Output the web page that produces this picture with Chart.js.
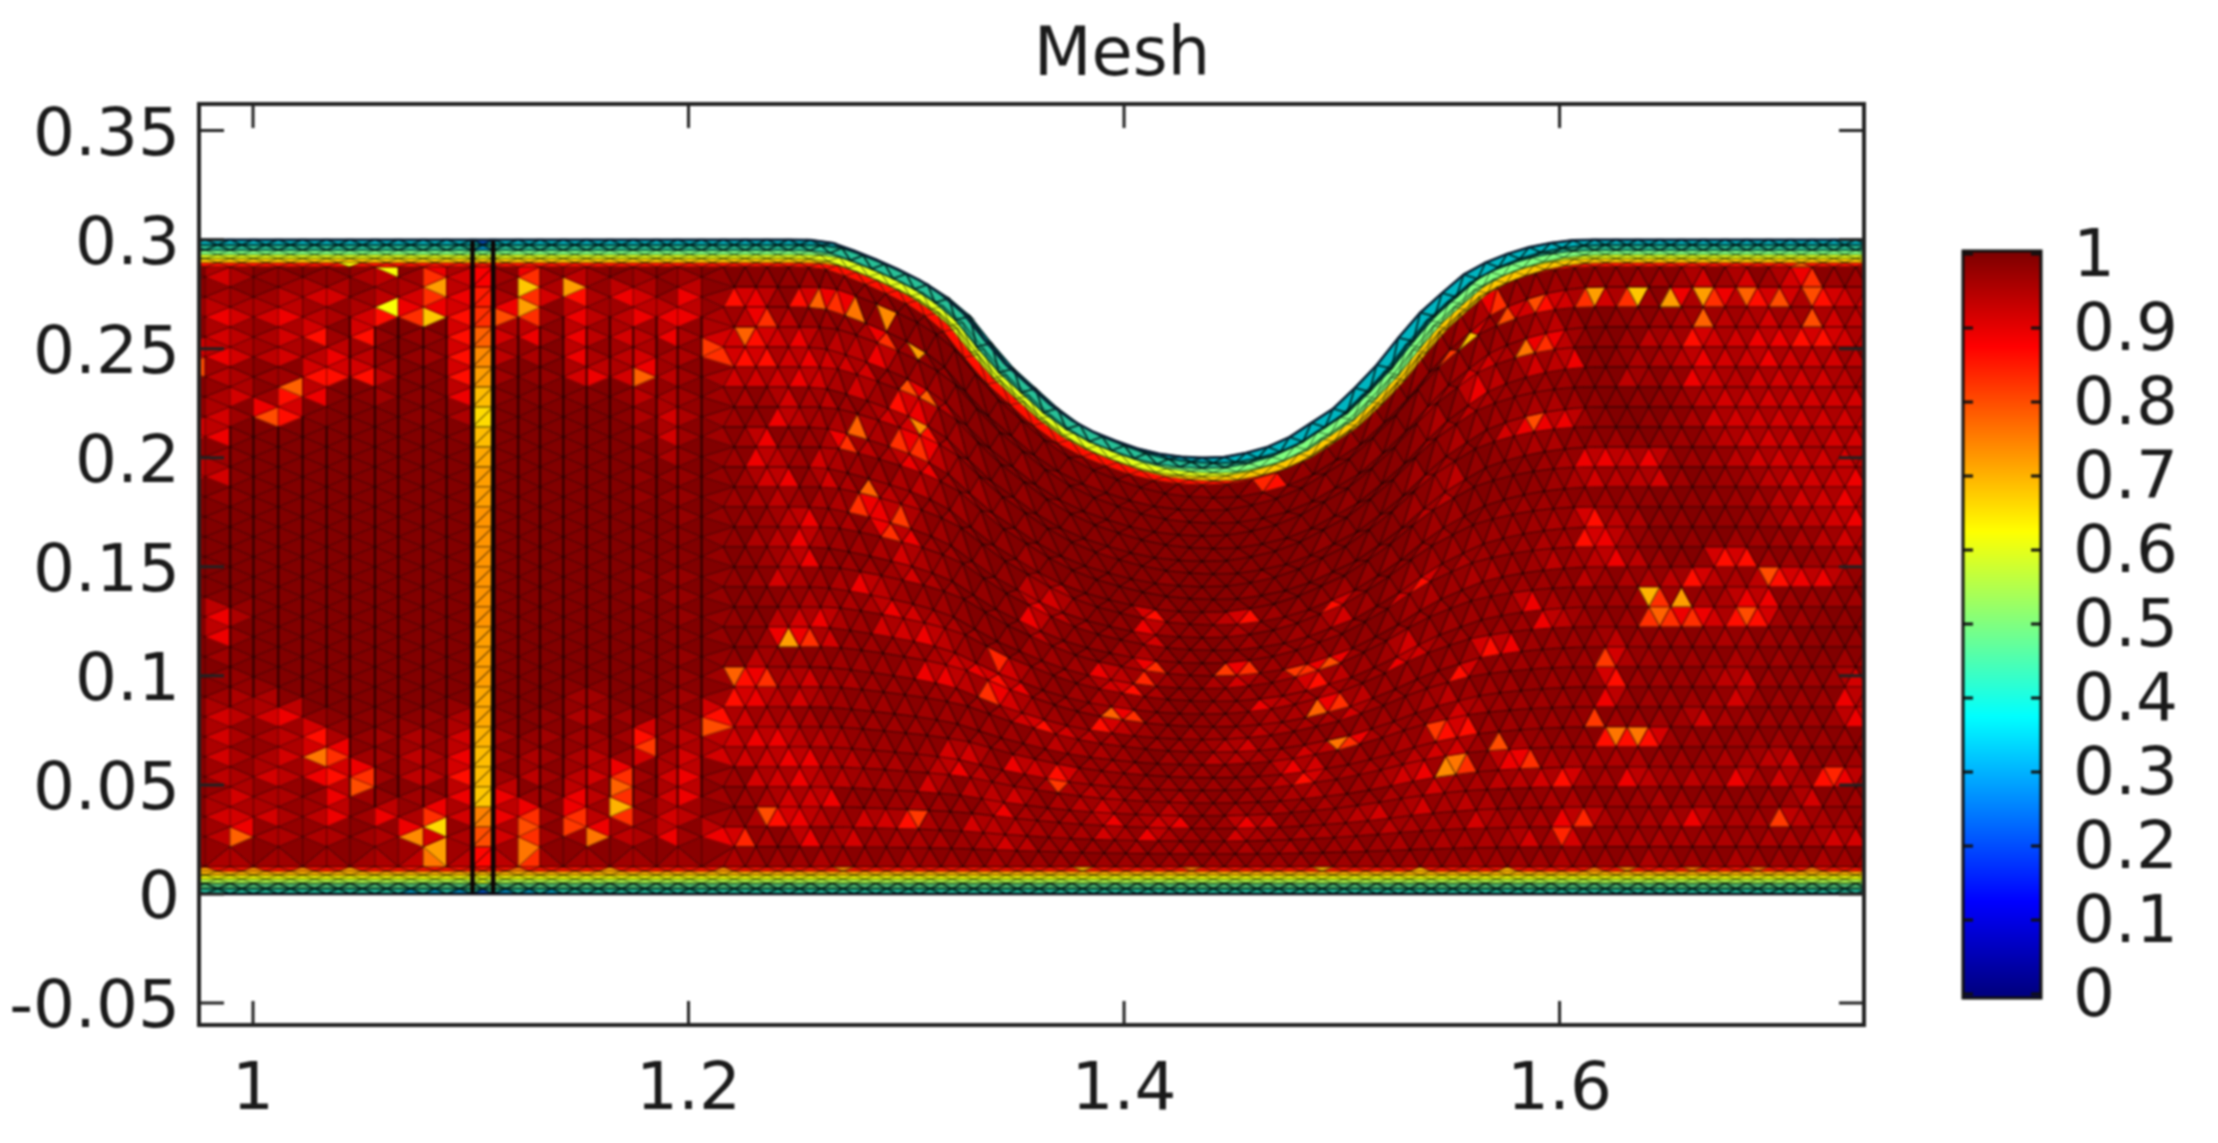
<!DOCTYPE html>
<html>
<head>
<meta charset="utf-8">
<title>Mesh</title>
<script src="https://cdn.jsdelivr.net/npm/chart.js@4/dist/chart.umd.js"></script>
<style>
    html, body { margin: 0; padding: 0; background: #fff; overflow: hidden; }
    #page { position: relative; width: 2218px; height: 1143px; }
    canvas { position: absolute; filter: blur(0.8px); }
    #meshChart { left: 0; top: 0; }
    #barChart { left: 1955px; top: 194px; }
</style>
</head>
<body>
<div id="page">
    <canvas id="meshChart" width="2218" height="1143"></canvas>
    <canvas id="barChart" width="263" height="861"></canvas>
</div>
<script>
const titleText = 'Mesh';
const xTicks = [1, 1.2, 1.4, 1.6];
const yTicks = [-0.05, 0, 0.05, 0.1, 0.15, 0.2, 0.25, 0.3, 0.35];
const barTicks = [0, 0.1, 0.2, 0.3, 0.4, 0.5, 0.6, 0.7, 0.8, 0.9, 1];

// mesh columns and the upper wall height at each of them
const meshX = [0.965, 0.978, 0.9895, 1.0002, 1.0116, 1.0228, 1.0338, 1.0445, 1.056, 1.0667, 1.0782, 1.0889, 1.1008, 1.1103, 1.1218, 1.1318, 1.1425, 1.1532, 1.1639, 1.1746, 1.1853, 1.195, 1.206,
    1.216, 1.226, 1.236, 1.246, 1.256, 1.266, 1.276, 1.286, 1.296, 1.306, 1.316, 1.326, 1.336, 1.346, 1.356, 1.366, 1.376, 1.386, 1.396, 1.406, 1.416, 1.426, 1.436, 1.446, 1.456, 1.466, 1.476,
    1.486, 1.496, 1.506, 1.516, 1.526, 1.536, 1.546, 1.556, 1.566, 1.576, 1.586, 1.596, 1.606, 1.616, 1.626, 1.636, 1.646, 1.656, 1.666, 1.676, 1.686, 1.696, 1.706, 1.716, 1.726, 1.736, 1.746];
const meshTop = [0.3, 0.3, 0.3, 0.3, 0.3, 0.3, 0.3, 0.3, 0.3, 0.3, 0.3, 0.3, 0.3, 0.3, 0.3, 0.3, 0.3, 0.3, 0.3, 0.3, 0.3, 0.3, 0.3,
    0.3, 0.3, 0.3, 0.3, 0.2998, 0.2985, 0.295, 0.291, 0.2865, 0.2815, 0.275, 0.2665, 0.254, 0.2425, 0.2335, 0.2245, 0.2172, 0.2118, 0.2078, 0.2043, 0.2018, 0.2005, 0.2, 0.2003, 0.2022, 0.205, 0.2095,
    0.216, 0.2225, 0.232, 0.2425, 0.255, 0.2665, 0.2755, 0.284, 0.2895, 0.2935, 0.2965, 0.2985, 0.2997, 0.3, 0.3, 0.3, 0.3, 0.3, 0.3, 0.3, 0.3, 0.3, 0.3, 0.3, 0.3, 0.3, 0.3];

// thin layers along both walls, and the quality in each of them from the wall inwards
const wallDepths = [0, 0.0024, 0.0048, 0.0068, 0.0086, 0.0105, 0.0125];
const wallTopValues = [0.36, 0.43, 0.5, 0.6, 0.68, 0.86];
const wallBottomValues = [0.42, 0.48, 0.55, 0.62, 0.7, 0.86];

// one character per mesh column, one string per row from top to bottom
const qualityLevels = [0.998, 0.99, 0.98, 0.968, 0.955, 0.94, 0.918, 0.892, 0.862, 0.83];
const qualityRows = [
    '2642222453966393532 323223232322111111 2221212212821221223 49333333333636369333',
    '3433566356977496847 637387389922221111 2112121121212121323 83868696939495884866',
    '5766754689988993755 777459533349322111 1211112111112121233 33345322334555655656',
    '3654683822289673756 574668674557333211 2111111111111112353 66499522355866778865',
    '8765657522389542745 644988676663395321 1211111111111211242 75365722445766766653',
    '4543388851189322676 953466676463873321 2111111111111111233 54333322534765666654',
    '3463871131179111112 543343645336684322 1112111111112111324 33344321223566666665',
    '4639810001149000001 464333754464995332 2111112111211112243 23677732123466666666',
    '8710000000019000000 363337334954773332 2211111112112111335 22344333223356665666',
    '4310000000009000000 242237536433453322 3121112111111112255 22223477673345666665',
    '7610000000009000000 222236736435533222 3521283258322322233 22223465563234566675',
    '3210000000009000000 222234534497633222 5631273234232832233 22333333322233456675',
    '1100000000009000000 112233574439733222 7532262223233632333 33334485422223355676',
    '1000000000009000000 111224574334643222 7322342222233322683 43334487422223334565',
    '1000000000009000000 111223573333643221 5322493229333322343 44335457532288333453',
    '1000000000009000000 222223643475333222 3337553246349932333 33333353445854587742',
    '2100000000009000000 222222344447654322 3336842233348533633 33374333395447733332',
    '3740000000009000000 112222567436675336 3234432233754533763 33337533399968833222',
    '3720000000009000000 111223996333446787 3335932233445953333 38733335333344332222',
    '2310000000009000000 112225333333477596 4338532334544463333 83333338433334332233',
    '1220000000009000000 112389564433334336 8654333356433333345 33323338333356333363',
    '2344100000009000330 123387564333333333 4544323355446594434 64333337333346333375',
    '3656721111249112443 133865543333333333 3334423333376333448 83333343333644333378',
    '3644584234369323333 845567755433336637 6844333333458444456 63343338883333333333',
    '3644689335479343453 646666775544357543 4455434333345434675 93794444433344563333',
    '3546578935589353569 367336675544363556 3456445334343433446 44556844754547464873',
    '3464437323379733759 367334667333433374 4447467337633456464 54334433343333336333',
    '3666457374969793959 365334875466843655 4446474336434444544 46444774445744475444',
    '4594444349649693395 473784374644443465 3433434334343343434 44464644444444444663',
    '4443333345859593333 333343334333433343 3333333333333333333 34333433343334333433'
];

// the narrow column of poor elements near x = 1.1, same rows as above
const stripValues = [0.88, 0.85, 0.83, 0.78, 0.74, 0.72, 0.69, 0.66, 0.69, 0.71, 0.72, 0.72, 0.73, 0.73, 0.73, 0.73, 0.73, 0.73, 0.72, 0.72, 0.72, 0.71, 0.71, 0.7, 0.69, 0.69, 0.68, 0.75, 0.8, 0.87];

// single elements that stand out: x, y, quality
const hotElements = [
    [1.105, 0.2985, 0.22], [1.105, 0.2965, 0.3], [1.075, 0.001, 0.32], [1.085, 0.001, 0.32], [1.095, 0.001, 0.3], [1.105, 0.001, 0.22], [1.115, 0.001, 0.3], [1.125, 0.001, 0.32], [1.135, 0.001, 0.33], [1.105, 0.005, 0.6],
    [1.0445, 0.2864, 0.62], [1.063, 0.2864, 0.62], [1.063, 0.2658, 0.62], [1.0843, 0.265, 0.68], [1.085, 0.2757, 0.72], [1.1233, 0.278, 0.68], [1.1455, 0.275, 0.72], [1.124, 0.2673, 0.72], [1.1165, 0.2635, 0.8],
    [1.0216, 0.2314, 0.78], [1.006, 0.2176, 0.8], [0.977, 0.2436, 0.8], [1.032, 0.0607, 0.76], [1.046, 0.053, 0.8], [0.991, 0.027, 0.78], [1.0843, 0.0309, 0.66], [1.072, 0.024, 0.74], [1.085, 0.0217, 0.72], [1.085, 0.015, 0.76],
    [1.1654, 0.053, 0.78], [1.1654, 0.0378, 0.7], [1.147, 0.033, 0.82], [1.159, 0.024, 0.76], [1.124, 0.0317, 0.8], [1.123, 0.021, 0.76], [1.123, 0.014, 0.76],
    [1.176, 0.239, 0.78], [1.26, 0.275, 0.78], [1.275, 0.2696, 0.76], [1.291, 0.2612, 0.74], [1.306, 0.2474, 0.72], [1.274, 0.213, 0.78], [1.306, 0.2168, 0.74], [1.302, 0.233, 0.8], [1.3077, 0.2268, 0.78], [1.2297, 0.2597, 0.78], [1.283, 0.1824, 0.78], [1.294, 0.1717, 0.82], [1.211, 0.2482, 0.82],
    [1.245, 0.1143, 0.72], [1.222, 0.102, 0.78], [1.211, 0.0776, 0.8], [1.1838, 0.0669, 0.82], [1.2373, 0.034, 0.8], [1.3047, 0.0332, 0.82], [1.34, 0.1066, 0.84], [1.226, 0.0263, 0.84],
    [1.479, 0.1043, 0.82], [1.495, 0.105, 0.8], [1.491, 0.0867, 0.78], [1.497, 0.066, 0.76], [1.551, 0.0577, 0.76], [1.447, 0.1005, 0.82], [1.41, 0.1005, 0.84], [1.3964, 0.0822, 0.78], [1.5425, 0.073, 0.82], [1.3688, 0.0515, 0.82], [1.4637, 0.1862, 0.84],
    [1.5593, 0.2574, 0.68], [1.5494, 0.2497, 0.82], [1.5846, 0.2497, 0.76], [1.5754, 0.268, 0.8], [1.5876, 0.2734, 0.8], [1.6152, 0.2757, 0.72], [1.6328, 0.2757, 0.68], [1.6504, 0.275, 0.72], [1.668, 0.2757, 0.72], [1.6848, 0.275, 0.78], [1.7016, 0.275, 0.8], [1.7185, 0.275, 0.8], [1.713, 0.2872, 0.78], [1.662, 0.2604, 0.78], [1.716, 0.2604, 0.8], [1.5907, 0.2176, 0.8],
    [1.6458, 0.1403, 0.7], [1.6443, 0.1311, 0.74], [1.6488, 0.128, 0.78], [1.6588, 0.1319, 0.72], [1.6856, 0.128, 0.8], [1.6947, 0.148, 0.8], [1.6198, 0.1082, 0.82], [1.6167, 0.0829, 0.82], [1.6267, 0.076, 0.76], [1.6404, 0.076, 0.76], [1.5739, 0.0669, 0.8], [1.5502, 0.0577, 0.74], [1.7024, 0.0317, 0.82], [1.7253, 0.0546, 0.84], [1.6075, 0.0317, 0.84], [1.6014, 0.0286, 0.84],
    [0.977, 0.0115, 0.72], [1.0017, 0.0115, 0.74], [1.02, 0.0115, 0.74], [1.046, 0.0115, 0.72], [1.164, 0.0115, 0.72], [1.214, 0.0115, 0.74], [1.272, 0.0115, 0.74], [1.383, 0.0115, 0.7], [1.431, 0.0115, 0.76], [1.49, 0.0115, 0.7], [1.534, 0.0115, 0.7], [1.574, 0.0115, 0.7], [1.618, 0.0115, 0.76], [1.632, 0.0115, 0.74], [1.659, 0.0115, 0.76], [1.69, 0.0115, 0.76], [1.718, 0.0115, 0.76]
];

const WALL_ROWS = wallDepths.length - 1;
const BULK_ROWS = qualityRows.length;
const ROW_COUNT = WALL_ROWS * 2 + BULK_ROWS;
const LAST_LEFT_COLUMN = 22;
const STRIP_COLUMN = 12;

function jet(v) {
    const part = d => Math.round(255 * Math.min(1, Math.max(0, 1.5 - Math.abs(4 * v - d))));
    return `rgb(${part(3)},${part(2)},${part(1)})`;
}

// columns left of x = 1.215 have vertices lifted by half a row every other column
function isLifted(i) {
    if (i > LAST_LEFT_COLUMN || i === STRIP_COLUMN || i === STRIP_COLUMN + 1) return false;
    return i < STRIP_COLUMN ? (STRIP_COLUMN - i) % 2 === 1 : (i - STRIP_COLUMN - 1) % 2 === 1;
}

function wallPoint(i, depth) {
    const a = Math.max(i - 1, 0);
    const b = Math.min(i + 1, meshX.length - 1);
    const slope = (meshTop[b] - meshTop[a]) / (meshX[b] - meshX[a]);
    const h = Math.sqrt(1 + slope * slope);
    return { x: meshX[i] + depth * slope / h, y: meshTop[i] - depth / h };
}

function meshVertex(i, j) {
    const inner = wallDepths[WALL_ROWS];
    let p;
    if (j <= WALL_ROWS) {
        p = { x: meshX[i], y: wallDepths[j] };
    } else if (j >= ROW_COUNT - WALL_ROWS) {
        p = wallPoint(i, wallDepths[ROW_COUNT - j]);
    } else {
        const top = wallPoint(i, inner);
        const f = (j - WALL_ROWS) / BULK_ROWS;
        p = { x: meshX[i] + f * (top.x - meshX[i]), y: inner + f * (top.y - inner) };
        if (isLifted(i)) p.y += 0.5 * (top.y - inner) / BULK_ROWS;
    }
    const inWall = j < WALL_ROWS || j > ROW_COUNT - WALL_ROWS;
    if (j % 2 === 1 && (inWall || i > LAST_LEFT_COLUMN)) {
        const c = Math.min(i, meshX.length - 2);
        p.x += (meshX[c + 1] - meshX[c]) / 2;
    }
    return p;
}

function rowValue(i, j, second) {
    if (j < WALL_ROWS) return wallBottomValues[j];
    if (j >= ROW_COUNT - WALL_ROWS) return wallTopValues[ROW_COUNT - 1 - j];
    const r = ROW_COUNT - WALL_ROWS - 1 - j;
    if (i === STRIP_COLUMN) return stripValues[r];
    const level = Number(qualityRows[r].replace(/ /g, '').charAt(i) || 0);
    return qualityLevels[second ? Math.max(level - 2, 0) : level];
}

function buildTriangles() {
    const vertices = meshTop.map((t, i) => {
        const column = [];
        for (let j = 0; j <= ROW_COUNT; j++) column.push(meshVertex(i, j));
        return column;
    });
    const triangles = [];
    for (let j = 0; j < ROW_COUNT; j++) {
        for (let i = 0; i < meshX.length - 1; i++) {
            const A = vertices[i][j], B = vertices[i + 1][j], C = vertices[i][j + 1], D = vertices[i + 1][j + 1];
            const left = i <= LAST_LEFT_COLUMN && j >= WALL_ROWS && j < ROW_COUNT - WALL_ROWS;
            const alongAD = left ? (isLifted(i) || i === STRIP_COLUMN) : j % 2 === 1;
            const pairs = alongAD ? [[A, B, D], [A, D, C]] : [[A, B, C], [B, D, C]];
            const faint = left && i !== STRIP_COLUMN;
            const wallRow = j < WALL_ROWS ? j : (j >= ROW_COUNT - WALL_ROWS ? ROW_COUNT - 1 - j : -1);
            pairs.forEach((pts, k) => {
                triangles.push({
                    pts,
                    value: rowValue(i, j, k === 1),
                    faint,
                    wallRow,
                    cx: (pts[0].x + pts[1].x + pts[2].x) / 3,
                    cy: (pts[0].y + pts[1].y + pts[2].y) / 3
                });
            });
        }
    }
    hotElements.forEach(([x, y, value]) => {
        let best = null, bestDist = Infinity;
        triangles.forEach(t => {
            const d = (t.cx - x) * (t.cx - x) + (t.cy - y) * (t.cy - y);
            if (d < bestDist) { bestDist = d; best = t; }
        });
        best.value = value;
    });
    return { vertices, triangles };
}

const mesh = buildTriangles();

function tracePath(ctx, xs, ys, pts) {
    ctx.beginPath();
    pts.forEach((p, n) => {
        const px = xs.getPixelForValue(p.x), py = ys.getPixelForValue(p.y);
        if (n === 0) ctx.moveTo(px, py); else ctx.lineTo(px, py);
    });
}

function edgeColor(t) {
    if (t.wallRow >= 0) return t.wallRow < 2 ? 'rgba(0,20,20,0.55)' : 'rgba(0,20,0,0.3)';
    return t.faint ? 'rgba(0,0,0,0.22)' : 'rgba(0,0,0,0.34)';
}

// Chart.js has no label offset, so the cached label items are moved before drawing
function shiftLabels(scale, dy) {
    scale.getLabelItems().forEach(item => { item.options.translation[1] += dy; });
}

const meshPlugin = {
    id: 'meshPlugin',
    beforeDatasetsDraw(chart) {
        const { ctx, chartArea, scales } = chart;
        const xs = scales.x, ys = scales.y;
        ctx.save();
        ctx.beginPath();
        ctx.rect(chartArea.left, chartArea.top, chartArea.width, chartArea.height);
        ctx.clip();
        ctx.lineWidth = 1;
        mesh.triangles.forEach(t => {
            const color = jet(t.value);
            tracePath(ctx, xs, ys, t.pts);
            ctx.closePath();
            ctx.fillStyle = color;
            ctx.strokeStyle = color;
            ctx.fill();
            ctx.stroke();
        });
        mesh.triangles.forEach(t => {
            tracePath(ctx, xs, ys, t.pts);
            ctx.closePath();
            if (t.wallRow === 0 || t.wallRow === 1) {
                // outer wall cells read darker than the colour scale in the picture
                ctx.fillStyle = 'rgba(0,30,30,0.28)';
                ctx.fill();
            }
            ctx.lineWidth = t.wallRow >= 0 && t.wallRow < 2 ? 1.8 : 1.1;
            ctx.strokeStyle = edgeColor(t);
            ctx.stroke();
        });
        // long vertical element edges in the left block
        const firstRow = WALL_ROWS;
        for (let i = 2; i <= LAST_LEFT_COLUMN; i++) {
            if (i === STRIP_COLUMN || i === STRIP_COLUMN + 1) continue;
            const from = firstRow + (i < 7 ? 8 : 3);
            const to = ROW_COUNT - firstRow - (i < 7 ? 8 : 3);
            tracePath(ctx, xs, ys, mesh.vertices[i].slice(from, to + 1));
            ctx.strokeStyle = 'rgba(20,0,0,0.6)';
            ctx.lineWidth = 2.2;
            ctx.stroke();
        }
        // the strip edges run straight from wall to wall
        [STRIP_COLUMN, STRIP_COLUMN + 1].forEach(i => {
            tracePath(ctx, xs, ys, [{ x: meshX[i], y: 0 }, { x: meshX[i], y: meshTop[i] }]);
            ctx.strokeStyle = '#0c0404';
            ctx.lineWidth = 4.5;
            ctx.stroke();
        });
        // dark outline along both walls
        ctx.lineWidth = 2.5;
        ctx.strokeStyle = '#0b1f33';
        tracePath(ctx, xs, ys, mesh.vertices.map(c => c[ROW_COUNT]));
        ctx.stroke();
        ctx.strokeStyle = '#0a0a14';
        tracePath(ctx, xs, ys, mesh.vertices.map(c => c[0]));
        ctx.stroke();
        ctx.restore();
    },
    afterDatasetsDraw(chart) {
        const { ctx, chartArea: a, scales } = chart;
        ctx.save();
        ctx.strokeStyle = '#222';
        ctx.lineWidth = 3;
        ctx.beginPath();
        scales.x.ticks.forEach(t => {
            const px = scales.x.getPixelForValue(t.value);
            ctx.moveTo(px, a.top); ctx.lineTo(px, a.top + 24);
            ctx.moveTo(px, a.bottom); ctx.lineTo(px, a.bottom - 24);
        });
        scales.y.ticks.forEach(t => {
            const py = scales.y.getPixelForValue(t.value);
            ctx.moveTo(a.left, py); ctx.lineTo(a.left + 25, py);
            ctx.moveTo(a.right, py); ctx.lineTo(a.right - 25, py);
        });
        ctx.stroke();
        ctx.lineWidth = 4;
        ctx.strokeRect(a.left, a.top, a.width, a.height);
        ctx.restore();
    },
    afterLayout(chart) {
        // the title sits over x = 1.4 rather than the middle of the page
        chart.titleBlock.left = 1022;
        chart.titleBlock.right = 1222;
    },
    beforeDraw(chart) {
        shiftLabels(chart.scales.y, 7);
    }
};

const barPlugin = {
    id: 'barPlugin',
    beforeDraw(chart) {
        shiftLabels(chart.scales.y, 5);
    },
    afterDatasetsDraw(chart) {
        const { ctx, chartArea: a, scales } = chart;
        ctx.save();
        ctx.strokeStyle = '#111';
        ctx.lineWidth = 3;
        ctx.beginPath();
        scales.y.ticks.forEach(t => {
            const py = scales.y.getPixelForValue(t.value);
            ctx.moveTo(a.left, py); ctx.lineTo(a.left + 10, py);
            ctx.moveTo(a.right, py); ctx.lineTo(a.right - 10, py);
        });
        ctx.stroke();
        ctx.strokeRect(a.left, a.top, a.width, a.height);
        ctx.restore();
    }
};

function tickFont() {
    return { family: '"DejaVu Sans"', size: 66, lineHeight: 1 };
}

new Chart(document.getElementById('meshChart'), {
    type: 'scatter',
    data: {
        datasets: [{
            label: titleText,
            data: mesh.vertices.flat().map(p => ({ x: p.x, y: p.y })),
            pointRadius: 0,
            showLine: false
        }]
    },
    options: {
        responsive: false,
        animation: false,
        devicePixelRatio: 1,
        events: [],
        layout: { padding: { right: 354 } },
        plugins: {
            legend: { display: false },
            tooltip: { enabled: false },
            title: {
                display: true,
                text: titleText,
                color: '#1a1a1a',
                font: { family: '"DejaVu Sans"', size: 67, weight: 'normal', lineHeight: 1 },
                padding: { top: 24, bottom: 13 }
            }
        },
        scales: {
            x: {
                type: 'linear',
                min: 0.9752,
                max: 1.7398,
                grid: { display: false },
                border: { display: false },
                afterFit: scale => { scale.height = 118; },
                afterBuildTicks: scale => { scale.ticks = xTicks.map(value => ({ value })); },
                ticks: {
                    color: '#1a1a1a',
                    font: tickFont(),
                    padding: 26,
                    maxRotation: 0,
                    autoSkip: false,
                    callback: v => String(v)
                }
            },
            y: {
                type: 'linear',
                min: -0.0601,
                max: 0.3622,
                grid: { display: false },
                border: { display: false },
                afterFit: scale => { scale.width = 199; },
                afterBuildTicks: scale => { scale.ticks = yTicks.map(value => ({ value })); },
                ticks: {
                    color: '#1a1a1a',
                    font: tickFont(),
                    padding: 11,
                    autoSkip: false,
                    callback: v => String(v)
                }
            }
        }
    },
    plugins: [meshPlugin]
});

const barMin = -0.0054;
const barMax = 1.004;

new Chart(document.getElementById('barChart'), {
    type: 'bar',
    data: {
        labels: [''],
        datasets: [{
            data: [[barMin, barMax]],
            barPercentage: 1,
            categoryPercentage: 1,
            backgroundColor: context => {
                const { ctx, chartArea, scales } = context.chart;
                if (!chartArea) return '#800000';
                const gradient = ctx.createLinearGradient(0, scales.y.getPixelForValue(0), 0, scales.y.getPixelForValue(1));
                [0, 0.125, 0.375, 0.625, 0.875, 1].forEach(v => gradient.addColorStop(v, jet(v)));
                return gradient;
            }
        }]
    },
    options: {
        responsive: false,
        animation: false,
        devicePixelRatio: 1,
        events: [],
        layout: { padding: { left: 8, top: 28, bottom: 34 } },
        plugins: {
            legend: { display: false },
            tooltip: { enabled: false }
        },
        scales: {
            x: { display: false },
            y: {
                position: 'right',
                min: barMin,
                max: barMax,
                grid: { display: false },
                border: { display: false },
                afterFit: scale => { scale.width = 177; },
                afterBuildTicks: scale => { scale.ticks = barTicks.map(value => ({ value })); },
                ticks: {
                    color: '#1a1a1a',
                    font: tickFont(),
                    padding: 24,
                    autoSkip: false,
                    callback: v => String(v)
                }
            }
        }
    },
    plugins: [barPlugin]
});
</script>
</body>
</html>
